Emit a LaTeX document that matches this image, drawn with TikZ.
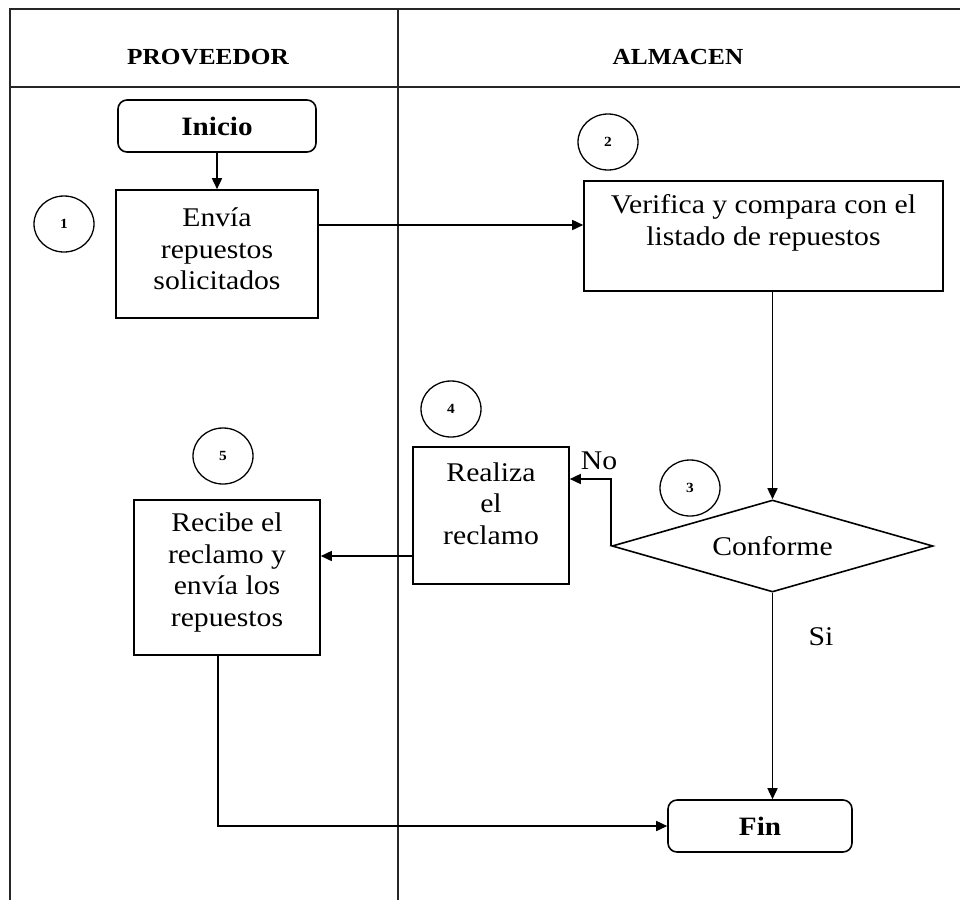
\documentclass[tikz,border=0pt]{standalone}
\usepackage{fontspec}
\setmainfont{Liberation Serif}[FakeStretch=1.1]
\usetikzlibrary{arrows.meta,shapes.geometric}

\tikzset{
  rule/.style={line width=1.6pt, draw=black!85},
  procbox/.style={draw, line width=1.6pt, inner sep=0pt},
  termbox/.style={draw, line width=1.6pt, rounded corners=9pt, inner sep=0pt,
    font=\fontsize{26.5}{30}\selectfont\bfseries},
  txt/.style={align=center, font=\fontsize{27}{31.5}\selectfont},
  lanehead/.style={font=\fontsize{23}{28}\selectfont\bfseries},
  stepnum/.style={draw, ellipse, line width=1.3pt, minimum width=60pt, minimum height=56pt,
    inner sep=0pt, font=\fontsize{14}{16}\selectfont\bfseries},
  decision/.style={draw, diamond, aspect=3.49, line width=1.6pt, inner sep=0pt,
    minimum width=321pt, minimum height=92pt, font=\fontsize{27}{30}\selectfont},
  arr/.style={line width=1.6pt, -{Triangle[length=11pt,width=10pt]}},
  flow/.style={line width=1.6pt}
}

\begin{document}
\begin{tikzpicture}[x=1pt,y=-1pt]
\useasboundingbox (0,0) rectangle (960,900);

% swimlane frame
\draw[rule] (960,9) -- (10,9) -- (10,900);
\draw[rule] (10,87) -- (960,87);
\draw[rule] (398,9) -- (398,900);
\node[lanehead] (lane1) at (208,57) {PROVEEDOR};
\node[lanehead] (lane2) at (678,57) {ALMACEN};

% process steps
\node[termbox, minimum width=198pt, minimum height=52pt] (inicio) at (217,126) {Inicio};

\node[procbox, minimum width=202pt, minimum height=128pt,
  label={[txt, yshift=5pt]center:{Envía\\repuestos\\solicitados}}] (envia) at (217,254) {};
\node[stepnum] (n1) at (64,224) {1};

\node[procbox, minimum width=359pt, minimum height=110pt,
  label={[txt, yshift=13pt]center:{Verifica y compara con el\\listado de repuestos}}] (verif) at (763.5,236) {};
\node[stepnum] (n2) at (608,142) {2};

\node[decision] (dec) at (772.5,546) {Conforme};
\node[stepnum] (n3) at (690,488) {3};

\node[procbox, minimum width=156pt, minimum height=137pt,
  label={[txt, yshift=12pt]center:{Realiza\\el\\reclamo}}] (realiza) at (491,515.5) {};
\node[stepnum] (n4) at (451,409) {4};

\node[procbox, minimum width=186pt, minimum height=155pt,
  label={[txt, yshift=5pt]center:{Recibe el\\reclamo y\\envía los\\repuestos}}] (recibe) at (227,577.5) {};
\node[stepnum] (n5) at (223,456) {5};

\node[termbox, minimum width=184pt, minimum height=52pt] (fin) at (760,826) {Fin};

% connectors
\draw[arr] (inicio.south) -- (envia.north);
\draw[arr] ([yshift=29pt]envia.east) -- ([yshift=29pt]envia.east -| verif.west);
\draw[arr] (verif.south -| dec.north) -- (dec.north);
\draw[arr] (dec.west) |- ([yshift=36.5pt]realiza.east);
\draw[arr] ([yshift=-40.5pt]realiza.west) -- ([yshift=-40.5pt]realiza.west -| recibe.east);
\draw[arr] (recibe.south -| 218,0) |- (fin.west);
\draw[arr] (dec.south) -- (dec.south |- fin.north);

% branch labels
\node[txt] (lblno) at (599,461) {No};
\node[txt] (lblsi) at (821,637) {Si};
\end{tikzpicture}
\end{document}
